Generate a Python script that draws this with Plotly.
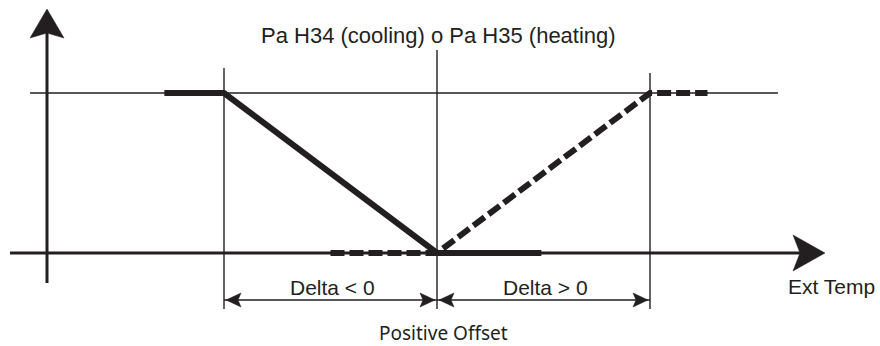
import plotly.graph_objects as go

# Control bands, in units of Delta, centred on the offset point
band_edges = [-1, 0, 1]
band_labels = ["Delta < 0", "Delta > 0"]

# Setpoint compensation curves (level 0 = base setpoint, level 1 = full compensation)
cooling_x = [-1.28, -1, 0, 0.49]
cooling_y = [1, 1, 0, 0]
heating_x = [-0.5, 0, 1, 1.27]
heating_y = [0, 0, 1, 1]

title_text = "Pa H34 (cooling) o Pa H35 (heating)"
x_axis_label = "Ext Temp"
offset_label = "Positive Offset"

INK = "#231f20"
W, H = 880, 346
X0_PX, XU_PX = 437, 213   # pixel column of x = 0, pixels per Delta
Y0_PX, YU_PX = 253, 160   # pixel row of level 0, pixels per level


def dx(px):
    return (px - X0_PX) / XU_PX


def dy(py):
    return (Y0_PX - py) / YU_PX


shapes = []


def seg(x0, y0, x1, y1, width):
    shapes.append(dict(type="line", xref="x", yref="y", x0=x0, y0=y0, x1=x1, y1=y1,
                       line=dict(color=INK, width=width), layer="below"))


def head(x, y, path):
    shapes.append(dict(type="path", xref="x", yref="y", xsizemode="pixel", ysizemode="pixel",
                       xanchor=x, yanchor=y, path=path, fillcolor=INK,
                       line=dict(color=INK, width=0.5), layer="above"))


# vertical (setpoint) axis with its arrow
seg(dx(47), dy(283), dx(47), dy(16), 3)
head(dx(47), dy(9), "M0,0 L-17,-29 L0,-24 L17,-29 Z")

# horizontal (outside temperature) axis with its arrow
seg(dx(10), 0, dx(812), 0, 3)
head(dx(825), 0, "M0,0 L-32,18 L-25,0 L-32,-18 Z")

# reference line at the compensated level
seg(dx(30), 1, dx(778), 1, 1.4)

# band boundaries
edge_tops = [dy(68), dy(50), dy(73)]
for e, top in zip(band_edges, edge_tops):
    seg(e, dy(309), e, top, 1.4)

# dimension arrows under each band
dim_y = dy(300)
for a, b in zip(band_edges[:-1], band_edges[1:]):
    seg(a, dim_y, b, dim_y, 1.4)
    head(a + 2 / XU_PX, dim_y, "M0,0 L15,7 L12,0 L15,-7 Z")
    head(b - 2 / XU_PX, dim_y, "M0,0 L-15,7 L-12,0 L-15,-7 Z")

fig = go.Figure()
fig.add_trace(go.Scatter(x=cooling_x, y=cooling_y, mode="lines",
                         line=dict(color=INK, width=6), hoverinfo="skip"))
fig.add_trace(go.Scatter(x=heating_x, y=heating_y, mode="lines",
                         line=dict(color=INK, width=6, dash="14px,5px"), hoverinfo="skip"))

sans = "Liberation Sans, Arial, sans-serif"
annotations = [
    dict(x=dx(438), y=dy(35.5), text=title_text, font=dict(family=sans, size=22, color=INK)),
    dict(x=dx(831), y=dy(286), text=x_axis_label, font=dict(family=sans, size=21, color=INK)),
    dict(x=dx(443), y=dy(333), text=offset_label,
         font=dict(family="Noto Sans, sans-serif", size=19, color=INK)),
]
# band labels sit slightly right of each band's midpoint
for (a, b), lab in zip(zip(band_edges[:-1], band_edges[1:]), band_labels):
    annotations.append(dict(x=(a + b) / 2 + 1.5 / XU_PX, y=dy(287), text=lab,
                            font=dict(family=sans, size=21, color=INK)))
for an in annotations:
    an.update(xref="x", yref="y", showarrow=False, xanchor="center", yanchor="middle")

fig.update_layout(
    width=W, height=H, margin=dict(l=0, r=0, t=0, b=0),
    paper_bgcolor="white", plot_bgcolor="white", showlegend=False,
    xaxis=dict(range=[dx(0), dx(W)], visible=False, fixedrange=True),
    yaxis=dict(range=[dy(H), dy(0)], visible=False, fixedrange=True),
    shapes=shapes, annotations=annotations,
)

fig.write_html("out.html")
